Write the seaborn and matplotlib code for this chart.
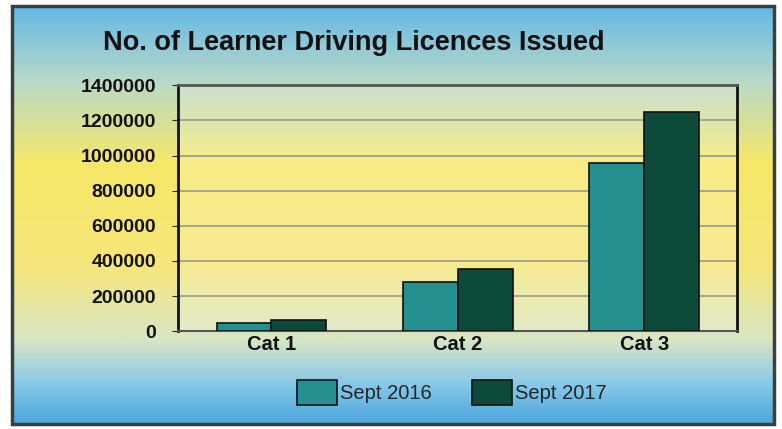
import numpy as np
import pandas as pd
import matplotlib
matplotlib.use("Agg")
import matplotlib.pyplot as plt
from matplotlib.colors import LinearSegmentedColormap
from matplotlib.patches import Rectangle, Patch
import seaborn as sns

# ==================== DATA ====================
categories = ["Cat 1", "Cat 2", "Cat 3"]
sept_2016 = [45000, 279000, 956000]
sept_2017 = [62000, 352000, 1247000]
series_names = ["Sept 2016", "Sept 2017"]
y_ticks = [0, 200000, 400000, 600000, 800000, 1000000, 1200000, 1400000]

df = pd.DataFrame({
    "category": categories * 2,
    "value": sept_2016 + sept_2017,
    "series": [series_names[0]] * 3 + [series_names[1]] * 3,
})

colors = {"Sept 2016": "#24908f", "Sept 2017": "#0e4a3a"}

sns.set_style("white")
plt.rcParams["font.family"] = ["Liberation Sans", "DejaVu Sans"]

fig = plt.figure(figsize=(7.82, 4.29), dpi=100)
fig.patch.set_facecolor("white")

# gradient background inside the frame
bg = fig.add_axes([0.015, 0.012, 0.975, 0.975], zorder=0)
grad = LinearSegmentedColormap.from_list(
    "bg", [(0.0, "#62b8e6"), (0.18, "#b9d9c8"), (0.38, "#f7e868"),
           (0.62, "#f6e67a"), (0.80, "#d8e6c4"), (0.9, "#8ccbe8"), (1.0, "#4aa6dc")])
bg.imshow(np.linspace(0, 1, 256).reshape(-1, 1), aspect="auto", cmap=grad,
          extent=[0, 1, 0, 1])
bg.set_axis_off()
fig.patches.append(Rectangle((0.015, 0.012), 0.975, 0.975, transform=fig.transFigure,
                             fill=False, edgecolor="#3a3f3f", linewidth=2.5, zorder=5))

ax = fig.add_axes([0.228, 0.228, 0.715, 0.573], zorder=2)
ax.patch.set_facecolor("white")
ax.patch.set_alpha(0.2)

sns.barplot(data=df, x="category", y="value", hue="series", palette=colors,
            width=0.59, edgecolor="#101010", linewidth=1.2, saturation=1,
            ax=ax, legend=False, zorder=3)

ax.set_ylim(0, 1400000)
ax.set_yticks(y_ticks)
ax.set_yticklabels([str(t) for t in y_ticks], fontsize=14, fontweight="bold", color="#111111")
ax.set_xticks(range(len(categories)))
ax.set_xticklabels(categories, fontsize=14.5, fontweight="bold", color="#111111")
ax.set_xlabel("")
ax.set_ylabel("")
ax.yaxis.grid(True, color="#9a9a90", linewidth=1.2, zorder=1)
ax.tick_params(axis="y", length=4, pad=12, left=True)
ax.tick_params(axis="x", length=0, pad=3)
for side in ["left", "right", "top"]:
    ax.spines[side].set_color("#111111")
    ax.spines[side].set_linewidth(2)
ax.spines["top"].set_color("#555555")
ax.spines["bottom"].set_color("#555555")
ax.spines["bottom"].set_linewidth(1.5)

fig.text(0.452, 0.9, "No. of Learner Driving Licences Issued", ha="center", va="center",
         fontsize=19.5, fontweight="bold", color="#111111")

handles = [Patch(facecolor=colors[s], edgecolor="#101010", linewidth=1.2) for s in series_names]
fig.legend(handles, series_names, loc="center", bbox_to_anchor=(0.578, 0.085), ncol=2,
           frameon=False, fontsize=14.5, handlelength=2.0, handleheight=1.5,
           handletextpad=0.15, columnspacing=2.0)

fig.savefig("out.png", dpi=100)
